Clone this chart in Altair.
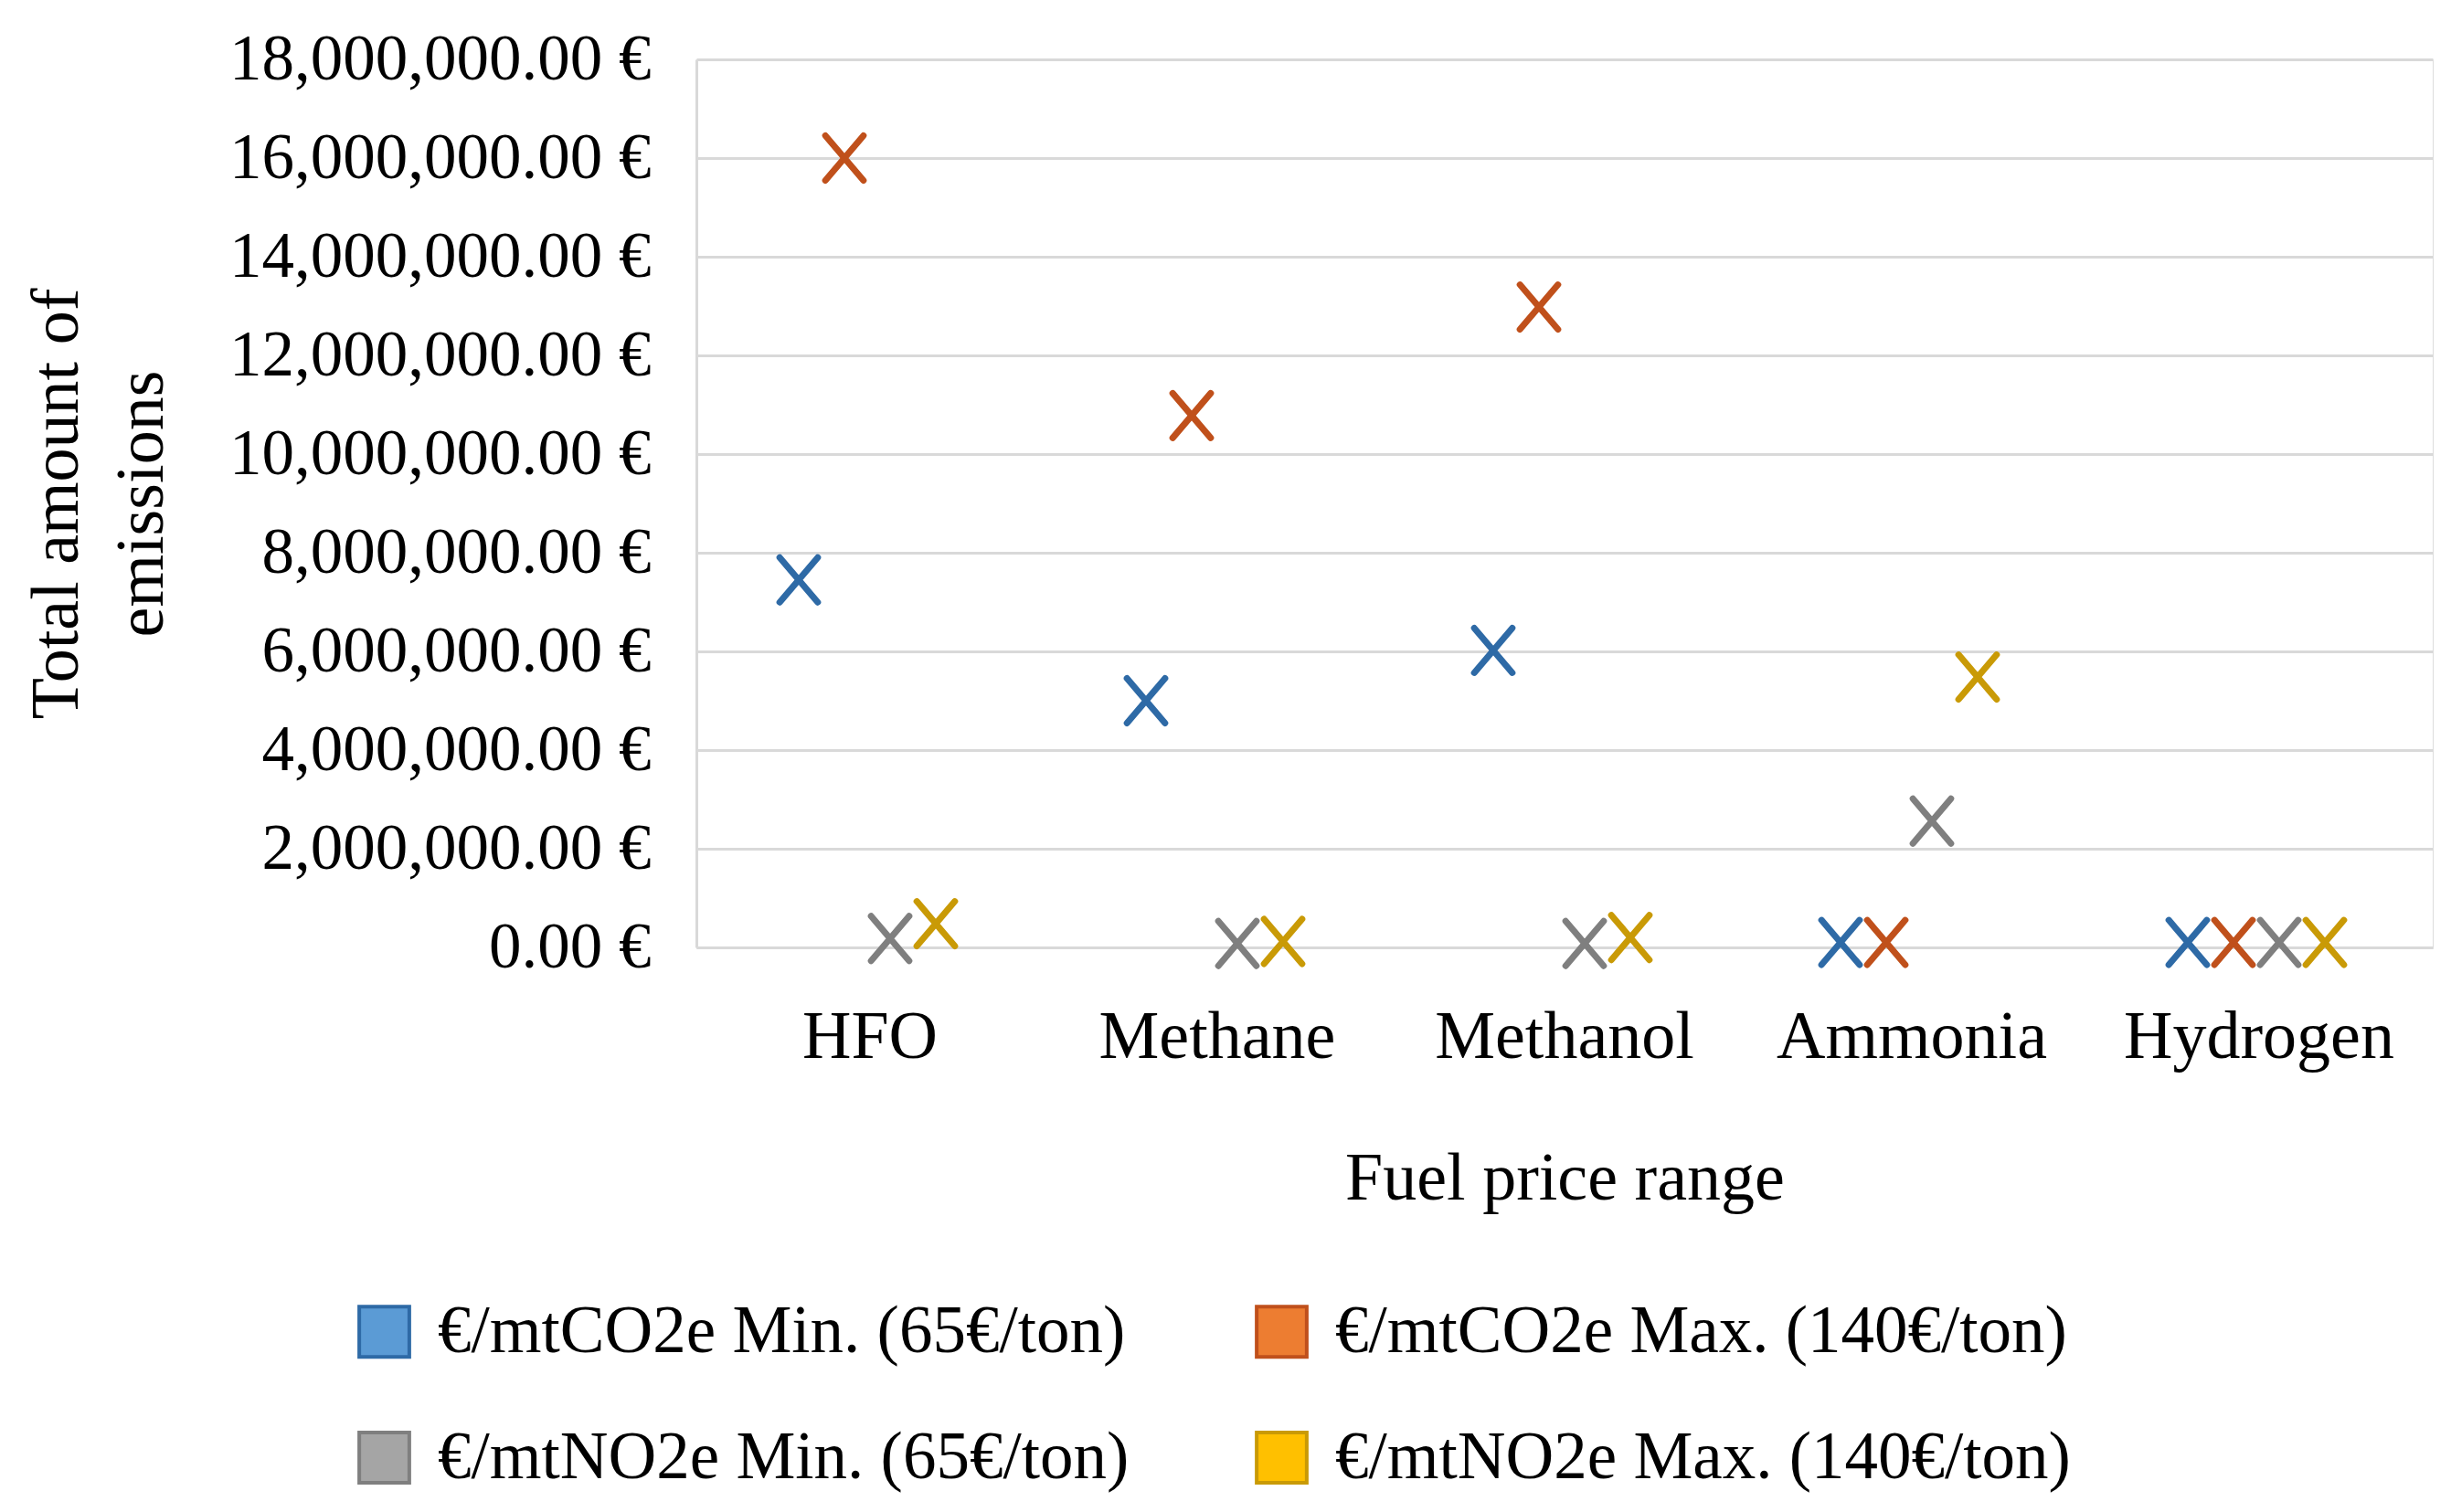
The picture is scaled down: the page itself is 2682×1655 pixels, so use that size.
import altair as alt
import pandas as pd

fuels = ["HFO", "Methane", "Methanol", "Ammonia", "Hydrogen"]
series = [
    "€/mtCO2e Min. (65€/ton)",
    "€/mtCO2e Max. (140€/ton)",
    "€/mtNO2e Min. (65€/ton)",
    "€/mtNO2e Max. (140€/ton)",
]
co2_min = [7450000, 5000000, 6020000, 100000, 100000]
co2_max = [16000000, 10780000, 12980000, 100000, 100000]
no2_min = [180000, 80000, 80000, 2560000, 100000]
no2_max = [480000, 120000, 200000, 5480000, 100000]

legend_fill = ["#5B9BD5", "#ED7D31", "#A5A5A5", "#FFC000"]
marker_stroke = ["#2E6AA6", "#C0501B", "#7F7F7F", "#C99A06"]

rows = []
for s, vals in zip(series, [co2_min, co2_max, no2_min, no2_max]):
    for f, v in zip(fuels, vals):
        rows.append({"fuel": f, "series": s, "value": v})
df = pd.DataFrame(rows)

FONT = "Liberation Serif"
XPATH = "M-0.85,-1L0.85,1M-0.85,1L0.85,-1"

legend = alt.Legend(
    title=None, orient="none", legendX=-378, legendY=1356, columns=2,
    direction="horizontal",
    symbolType="square", symbolSize=3000, symbolStrokeWidth=4,
    labelFont=FONT, labelFontSize=73, labelColor="#000000", labelLimit=2000,
    labelOffset=22, columnPadding=130, rowPadding=64, padding=0,
)

chart = alt.Chart(df).mark_point(
    shape=XPATH, size=2400, strokeWidth=7, strokeCap="round", filled=True, opacity=1
).encode(
    x=alt.X("fuel:N", sort=fuels,
            scale=alt.Scale(paddingInner=0, paddingOuter=0),
            axis=alt.Axis(title="Fuel price range", labelAngle=0, ticks=False,
                          labelPadding=62, labelFontSize=74, labelFont=FONT,
                          labelColor="#000000", labelLimit=1000,
                          titleFont=FONT, titleFontSize=74,
                          titleFontWeight="normal", titleColor="#000000",
                          titleY=253, titleBaseline="middle",
                          domainColor="#D9D9D9", domainWidth=3, grid=False)),
    xOffset=alt.XOffset("series:N", sort=series,
                        scale=alt.Scale(type="point", padding=0, range=[112, 262])),
    y=alt.Y("value:Q", scale=alt.Scale(domain=[0, 18000000], nice=False),
            axis=alt.Axis(title=["Total amount of", "emissions"],
                          values=list(range(0, 18000001, 2000000)),
                          labelExpr="format(datum.value, ',.2f') + ' €'",
                          ticks=False, labelPadding=50, labelFontSize=71,
                          labelFont=FONT, labelColor="#000000", labelLimit=1000,
                          titleFont=FONT, titleFontSize=74, titleFontWeight="normal",
                          titleColor="#000000", titleAngle=-90, titleX=-700,
                          titleY=486, titleAlign="center", titleBaseline="middle",
                          titleLineHeight=93,
                          gridColor="#D9D9D9", gridWidth=3,
                          domainColor="#D9D9D9", domainWidth=3)),
    fill=alt.Fill("series:N", sort=series,
                  scale=alt.Scale(domain=series, range=legend_fill), legend=legend),
    stroke=alt.Stroke("series:N", sort=series,
                      scale=alt.Scale(domain=series, range=marker_stroke), legend=legend),
).properties(
    width=1900, height=972,
    autosize=alt.AutoSizeParams(type="none"),
    padding={"left": 754, "top": 57, "right": 10, "bottom": 600},
).configure_view(stroke=None).configure(background="#FFFFFF")

chart.save("out.html", embed_options={"renderer": "svg", "actions": False})
